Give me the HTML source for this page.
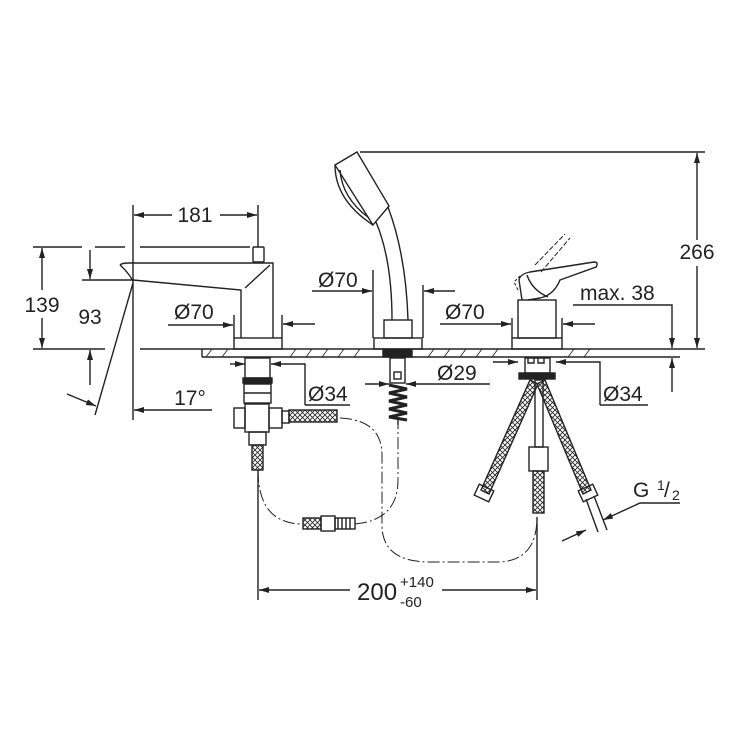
<!DOCTYPE html>
<html><head><meta charset="utf-8"><style>
html,body{margin:0;padding:0;background:#fff}
svg{display:block}
text{font-family:"Liberation Sans",sans-serif;fill:#222}
</style></head><body>
<svg width="734" height="734" viewBox="0 0 734 734" xmlns="http://www.w3.org/2000/svg">
<defs>
<marker id="a" viewBox="0 0 10 6" refX="10" refY="3" markerWidth="10" markerHeight="6" orient="auto" markerUnits="userSpaceOnUse"><path d="M0,0L10,3L0,6z" fill="#222"/></marker>
<pattern id="x" width="5" height="5" patternUnits="userSpaceOnUse"><path d="M0,0L5,5M5,0L0,5" stroke="#222" stroke-width="0.8"/></pattern>
</defs>
<g stroke="#222" stroke-width="1.4" fill="none">
<!-- deck -->
<line x1="202" y1="349" x2="705" y2="349"/>
<line x1="202" y1="357" x2="680" y2="357"/>
<line x1="202" y1="349" x2="202" y2="357"/>
<g stroke-width="0.8">
<path d="M206,357l6,-8M222,357l6,-8M290,357l6,-8M306,357l6,-8M322,357l6,-8M338,357l6,-8M354,357l6,-8M428,357l6,-8M444,357l6,-8M460,357l6,-8M476,357l6,-8M492,357l6,-8M568,357l6,-8M584,357l6,-8"/>
</g>
<!-- 266 -->
<line x1="360" y1="152" x2="705" y2="152"/>
<line x1="697" y1="240" x2="697" y2="153" marker-end="url(#a)"/>
<line x1="697" y1="266" x2="697" y2="348" marker-end="url(#a)"/>
<!-- max 38 -->
<polyline points="573,305 672,305 672,348" marker-end="url(#a)"/>
<line x1="672" y1="392" x2="672" y2="358" marker-end="url(#a)"/>
<!-- left faucet -->
<rect x="234" y="338" width="48" height="11"/>
<path d="M241,338V290L133,280M120,265Q122,263 128,263H273V338"/>
<path d="M120,265Q128,272 133,281"/>
<line x1="270" y1="265" x2="245" y2="288"/>
<rect x="253" y="247" width="11" height="15" rx="1"/>
<!-- 181 -->
<line x1="133" y1="205" x2="133" y2="420"/>
<line x1="258" y1="205" x2="258" y2="247"/>
<line x1="172" y1="215" x2="134" y2="215" marker-end="url(#a)"/>
<line x1="220" y1="215" x2="257" y2="215" marker-end="url(#a)"/>
<!-- 139 -->
<path d="M33,247H82M95,247H125M140,247H250" />
<path d="M33,349H105M140,349H202"/>
<line x1="42" y1="290" x2="42" y2="248" marker-end="url(#a)"/>
<line x1="42" y1="318" x2="42" y2="348" marker-end="url(#a)"/>
<!-- 93 -->
<line x1="82" y1="280" x2="133" y2="280"/>
<line x1="90" y1="250" x2="90" y2="279" marker-end="url(#a)"/>
<line x1="90" y1="385" x2="90" y2="350" marker-end="url(#a)"/>
<!-- 17 -->
<line x1="133" y1="283" x2="95" y2="415"/>
<line x1="67" y1="394" x2="96" y2="406" marker-end="url(#a)"/>
<line x1="212" y1="410" x2="134" y2="410" marker-end="url(#a)"/>
<!-- Ø70 left -->
<line x1="234" y1="315" x2="234" y2="338"/><line x1="282" y1="315" x2="282" y2="338"/>
<line x1="168" y1="325" x2="233" y2="325" marker-end="url(#a)"/>
<line x1="315" y1="324" x2="283" y2="324" marker-end="url(#a)"/>
<!-- Ø34 left -->
<line x1="230" y1="364" x2="245" y2="364" marker-end="url(#a)"/>
<polyline points="305,405 305,364 271,364" marker-end="url(#a)"/>
<line x1="305" y1="405" x2="350" y2="405"/>
<!-- left valve -->
<rect x="245" y="358" width="25" height="20"/>
<rect x="243" y="378" width="29" height="5" fill="#222"/>
<rect x="244" y="384" width="27" height="19"/>
<line x1="244" y1="393" x2="271" y2="393"/>
<rect x="245" y="404" width="24" height="28"/>
<rect x="234" y="408" width="11" height="20"/><rect x="269" y="408" width="13" height="20"/>
<rect x="282" y="411" width="7" height="12"/>
<rect x="289" y="410" width="48" height="12" fill="url(#x)"/>
<rect x="249" y="432" width="17" height="13"/>
<rect x="252" y="445" width="11" height="25" fill="url(#x)"/>
<!-- dash-dot lines -->
<g stroke-dasharray="12,3,2,3" stroke-width="1">
<path d="M340,418Q382,420 382,455V525Q382,562 430,562H500Q537,560 537,517"/>
<path d="M258,470Q258,524 303,524"/>
<path d="M355,524Q398,520 398,480V420"/>
</g>
<rect x="303" y="518" width="18" height="11" fill="url(#x)"/>
<rect x="321" y="516" width="14" height="15"/>
<rect x="335" y="518" width="20" height="11"/>
<path d="M338,518v11M342,518v11M346,518v11M350,518v11"/>
<!-- hand shower -->
<rect x="374" y="338" width="48" height="11"/>
<rect x="384" y="320" width="28" height="18"/>
<path d="M392,320Q392,260 376,222M408,320Q406,255 388,207"/>
<path d="M335,165L357,152L389,206L373,225Z"/>
<path d="M335,165Q335,200 373,225"/>
<path d="M340,170Q342,198 369,218"/>
<line x1="373" y1="270" x2="373" y2="338"/><line x1="423" y1="285" x2="423" y2="338"/>
<line x1="312" y1="291" x2="372" y2="291" marker-end="url(#a)"/>
<line x1="455" y1="291" x2="424" y2="291" marker-end="url(#a)"/>
<rect x="383" y="350" width="29" height="7" fill="#222"/>
<rect x="390" y="358" width="15" height="25"/>
<rect x="394" y="372" width="7" height="7"/>
<path d="M389,385L407,389L389,393L407,397L389,401L407,405L389,409L407,413L389,417L407,420" stroke-width="3"/>
<line x1="398" y1="420" x2="398" y2="425"/>
<!-- Ø29 -->
<line x1="365" y1="384" x2="389" y2="384" marker-end="url(#a)"/>
<line x1="490" y1="384" x2="406" y2="384" marker-end="url(#a)"/>
<!-- right mixer -->
<rect x="512" y="338" width="50" height="11"/>
<rect x="518" y="300" width="38" height="38"/>
<path d="M522,300L519,280Q520,274 530,272L594,262Q599,262 596,267L560,280Q554,295 540,298L528,300"/>
<path d="M527,275Q532,290 548,297" />
<path d="M535,265L565,234M541,272L570,238" stroke-dasharray="5,2" stroke-width="1"/>
<path d="M518,290L514,282L520,276" stroke-dasharray="3,2" stroke-width="1"/>
<line x1="512" y1="318" x2="512" y2="338"/><line x1="562" y1="318" x2="562" y2="338"/>
<line x1="440" y1="324" x2="511" y2="324" marker-end="url(#a)"/>
<line x1="595" y1="324" x2="563" y2="324" marker-end="url(#a)"/>
<!-- Ø34 right -->
<line x1="493" y1="362" x2="518" y2="362" marker-end="url(#a)"/>
<polyline points="600,405 600,362 556,362" marker-end="url(#a)"/>
<line x1="600" y1="405" x2="648" y2="405"/>
<!-- right below -->
<rect x="525" y="358" width="25" height="15"/>
<path d="M528,358v5h6v-5M538,358v5h6v-5"/>
<rect x="519" y="373" width="36" height="6" fill="#222"/>
<path d="M530,380L481,490L489,494L538,384Z" fill="url(#x)"/>
<path d="M545,380L591,490L583,494L537,384Z" fill="url(#x)"/>
<rect x="535" y="380" width="8" height="67"/>
<rect x="529" y="447" width="19" height="24"/>
<rect x="533" y="471" width="11" height="42" fill="url(#x)"/>
<rect x="476" y="487" width="16" height="12" transform="rotate(25 484 493)"/>
<rect x="580" y="487" width="16" height="12" transform="rotate(-25 588 493)"/>
<path d="M586,499L598,532M594,496L607,530"/>
<!-- G1/2 -->
<polyline points="680,503 640,503 603,520" marker-end="url(#a)"/>
<line x1="562" y1="541" x2="586" y2="530" marker-end="url(#a)"/>
<!-- 200 -->
<line x1="258" y1="470" x2="258" y2="600"/>
<line x1="537" y1="517" x2="537" y2="600"/>
<line x1="350" y1="590" x2="259" y2="590" marker-end="url(#a)"/>
<line x1="442" y1="590" x2="536" y2="590" marker-end="url(#a)"/>
</g>
<g font-size="21">
<text x="697" y="259" text-anchor="middle">266</text>
<text x="580" y="300">max. 38</text>
<text x="195" y="222" text-anchor="middle">181</text>
<text x="42" y="312" text-anchor="middle">139</text>
<text x="90" y="324" text-anchor="middle">93</text>
<text x="190" y="405" text-anchor="middle">17°</text>
<text x="174" y="319">Ø70</text>
<text x="308" y="401">Ø34</text>
<text x="318" y="287">Ø70</text>
<text x="437" y="380">Ø29</text>
<text x="445" y="319">Ø70</text>
<text x="603" y="401">Ø34</text>
<text x="633" y="497">G</text>
<text x="657" y="490" font-size="14">1</text>
<text x="664" y="497">/</text>
<text x="672" y="500" font-size="14">2</text>
<text x="357" y="600" font-size="24">200</text>
<text x="400" y="587" font-size="15">+140</text>
<text x="400" y="607" font-size="15">-60</text>
</g>
</svg>
</body></html>
